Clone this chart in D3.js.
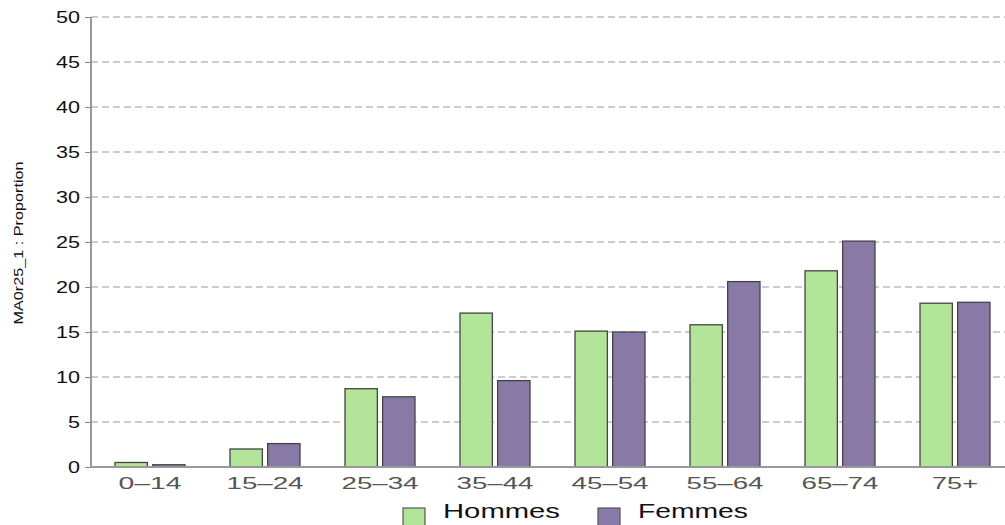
<!DOCTYPE html>
<html><head><meta charset="utf-8">
<script src="https://cdn.jsdelivr.net/npm/d3@7"></script>
<style>body{margin:0;background:#fff}svg{display:block}</style>
</head><body>
<svg id="c" width="1005" height="525"></svg>
<script>
const categories = ["0\u201314","15\u201324","25\u201334","35\u201344","45\u201354","55\u201364","65\u201374","75+"];
const hommes = [0.5, 2.0, 8.7, 17.1, 15.1, 15.8, 21.8, 18.2];
const femmes = [0.25, 2.6, 7.8, 9.6, 15.0, 20.6, 25.1, 18.3];
const seriesNames = ["Hommes","Femmes"];
const colors = ["#b2e49a","#8979a6"];
const yTicks = [0,5,10,15,20,25,30,35,40,45,50];
const yTitle = "MA0r25_1 : Proportion";

const svg = d3.select("#c");
const x = d3.scaleBand().domain(categories).range([92.5, 1012.5]);
const y = d3.scaleLinear().domain([0,50]).range([467, 17]);

// grid
svg.append("g").selectAll("line").data(yTicks.filter(d=>d>0)).join("line")
  .attr("x1", 91).attr("x2", 1005)
  .attr("y1", d=>y(d)).attr("y2", d=>y(d))
  .attr("stroke","#9a9a9a").attr("stroke-width",1.2).attr("stroke-dasharray","7,4");

// y axis
const ya = svg.append("g").attr("transform","translate(91,0)")
  .call(d3.axisLeft(y).tickValues(yTicks).tickSize(6).tickPadding(5));
ya.select(".domain").attr("stroke","#999").attr("stroke-width",2).attr("d","M0,17V467");
ya.selectAll(".tick line").attr("stroke","#888");
ya.selectAll("text").attr("font-family","Liberation Sans, Arial, sans-serif")
  .attr("font-size",17).attr("fill","#111").attr("textLength",24).attr("lengthAdjust","spacingAndGlyphs")
  .each(function(d){ if(d<10) d3.select(this).attr("textLength",12); });

// bars
const sub = d3.scaleBand().domain(seriesNames).range([-35, 35]).paddingInner(0.14);
const data = categories.map((c,i)=>({c, vals:[hommes[i], femmes[i]]}));
const g = svg.append("g");
data.forEach(d=>{
  d.vals.forEach((v,j)=>{
    g.append("rect")
      .attr("x", x(d.c)+x.bandwidth()/2 + sub(seriesNames[j]))
      .attr("y", y(v)).attr("width", sub.bandwidth()).attr("height", y(0)-y(v))
      .attr("fill", colors[j]).attr("stroke","#444").attr("stroke-width",1.3);
  });
});

// x axis
const xa = svg.append("g").attr("transform","translate(0,467)")
  .call(d3.axisBottom(x).tickSize(0).tickPadding(9));
xa.select(".domain").attr("stroke","#999").attr("stroke-width",2).attr("d","M91,0H1005");
xa.selectAll("text").attr("font-family","Liberation Sans, Arial, sans-serif")
  .attr("font-size",17).attr("fill","#555").attr("dy","0.75em")
  .attr("textLength", d=> d==="75+" ? 46 : (d.length===4 ? 63 : 77)).attr("lengthAdjust","spacingAndGlyphs");

// y title
svg.append("text").attr("transform","translate(23,243) rotate(-90)")
  .attr("text-anchor","middle").attr("font-family","Liberation Sans, Arial, sans-serif")
  .attr("font-size",12).attr("fill","#111").attr("textLength",163).attr("lengthAdjust","spacingAndGlyphs")
  .text(yTitle);

// legend
const legX = [403, 598];
const legTextW = [117, 110];
seriesNames.forEach((n,j)=>{
  svg.append("rect").attr("x",legX[j]).attr("y",508).attr("width",22).attr("height",18)
    .attr("fill",colors[j]).attr("stroke","#555").attr("stroke-width",1.2);
  svg.append("text").attr("x",legX[j]+40).attr("y",518)
    .attr("font-family","Liberation Sans, Arial, sans-serif").attr("font-size",20).attr("fill","#111")
    .attr("textLength",legTextW[j]).attr("lengthAdjust","spacingAndGlyphs").text(n);
});
</script>
</body></html>
